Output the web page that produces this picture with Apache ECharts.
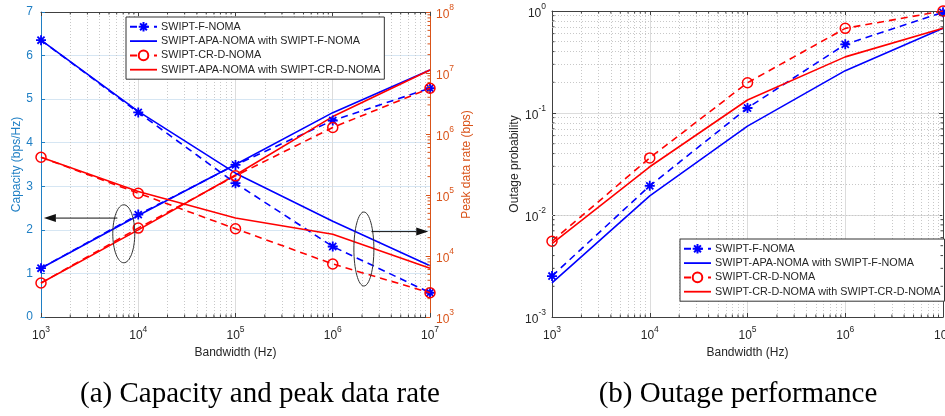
<!DOCTYPE html>
<html>
<head>
<meta charset="utf-8">
<script src="https://cdn.jsdelivr.net/npm/echarts@6/dist/echarts.min.js"></script>
<style>
  html, body { margin: 0; padding: 0; background: #fff; }
  #chart { width: 945px; height: 416px; }
</style>
</head>
<body>
<div id="chart"></div>
<script>
// Bandwidth samples (Hz)
const bandwidth = [1e3, 1e4, 1e5, 1e6, 1e7];

// (a) Capacity (bps/Hz) - left axis
const capFNoma   = [1.12, 2.35, 3.49, 4.51, 5.25];
const capApaF    = [1.12, 2.33, 3.50, 4.69, 5.67];
const capCrdNoma = [0.78, 2.04, 3.24, 4.35, 5.25];
const capApaCrd  = [0.78, 2.00, 3.26, 4.60, 5.67];

// (a) Peak data rate (bps) - right axis
const rateFNoma   = [3.45e7, 2.26e6, 1.56e5, 1.43e4, 2.5e3];
const rateApaF    = [3.45e7, 2.35e6, 2.28e5, 3.7e4, 6.9e3];
const rateCrdNoma = [4.16e5, 1.07e5, 2.8e4, 7.4e3, 2.5e3];
const rateApaCrd  = [4.16e5, 1.14e5, 4.2e4, 2.28e4, 6.3e3];

// (b) Outage probability
const outFNoma   = [2.52e-3, 0.0193, 0.112, 0.471, 0.97];
const outApaF    = [2.16e-3, 0.0154, 0.0743, 0.26, 0.676];
const outCrdNoma = [5.53e-3, 0.0363, 0.198, 0.676, 1.0];
const outCrdCrd  = [5.25e-3, 0.0297, 0.134, 0.355, 0.676];

// Legend entries
const namesA = ['SWIPT-F-NOMA', 'SWIPT-APA-NOMA with SWIPT-F-NOMA', 'SWIPT-CR-D-NOMA', 'SWIPT-APA-NOMA with SWIPT-CR-D-NOMA'];
const namesB = ['SWIPT-F-NOMA', 'SWIPT-APA-NOMA with SWIPT-F-NOMA', 'SWIPT-CR-D-NOMA', 'SWIPT-CR-D-NOMA with SWIPT-CR-D-NOMA'];

const captionA = '(a) Capacity and peak data rate';
const captionB = '(b) Outage performance';

const BLUE = '#0000ff', RED = '#ff0000';
const AX_BLUE = '#1f7fc4', AX_ORANGE = '#d95319', AX_GRAY = '#404040';
const STAR = 'path://M0,-10L0,10M-10,0L10,0M-7.1,-7.1L7.1,7.1M-7.1,7.1L7.1,-7.1';
const LINE_ICON = 'path://M0,0H30V2H0Z';

const pairs = (ys) => bandwidth.map((x, i) => [x, ys[i]]);

// minor decade positions (2..9 x 10^k)
function minorValues(kFrom, kTo) {
  const out = [];
  for (let k = kFrom; k <= kTo; k++) for (let m = 2; m <= 9; m++) out.push(m * Math.pow(10, k));
  return out;
}

const powLabel = (v) => '{b|10}{s|' + Math.round(Math.log10(v)) + '}';
const powRich = (color) => ({
  b: { fontSize: 12, color, lineHeight: 17, verticalAlign: 'bottom', fontFamily: 'Liberation Sans' },
  s: { fontSize: 8.5, color, verticalAlign: 'top', fontFamily: 'Liberation Sans' }
});

function dashedStar(name, xi, yi, data) {
  return {
    type: 'line', name, xAxisIndex: xi, yAxisIndex: yi, data,
    symbol: STAR, symbolSize: 10,
    itemStyle: { color: BLUE, borderColor: BLUE, borderWidth: 1.8 },
    lineStyle: { color: BLUE, width: 1.6, type: [7, 5] },
    z: 3, animation: false
  };
}
function dashedCircle(name, xi, yi, data) {
  return {
    type: 'line', name, xAxisIndex: xi, yAxisIndex: yi, data,
    symbol: 'circle', symbolSize: 10,
    itemStyle: { color: 'rgba(255,255,255,0)', borderColor: RED, borderWidth: 1.5 },
    lineStyle: { color: RED, width: 1.6, type: [7, 5] },
    z: 4, animation: false
  };
}
function solid(name, xi, yi, data, color) {
  return {
    type: 'line', name, xAxisIndex: xi, yAxisIndex: yi, data,
    symbol: 'none', itemStyle: { color },
    lineStyle: { color, width: 1.6 },
    z: 3, animation: false
  };
}
// dotted minor grid through the library's log scales
function minorGrid(xi, yi, xs, ys) {
  const data = xs.map(v => ({ xAxis: v })).concat(ys.map(v => ({ yAxis: v })));
  return {
    type: 'line', name: 'minor-grid', xAxisIndex: xi, yAxisIndex: yi, data: [],
    silent: true, animation: false,
    markLine: {
      silent: true, symbol: ['none', 'none'], label: { show: false }, animation: false, z: 1,
      lineStyle: { color: '#c8c8c8', width: 1, type: [1, 2] },
      emphasis: { disabled: true },
      data
    }
  };
}
// short inside tick marks at minor log positions
function minorTicks(xi, yi, values, dim, ref, sides, color) {
  return {
    type: 'custom', name: 'minor-ticks', xAxisIndex: xi, yAxisIndex: yi,
    silent: true, animation: false, z: 6, clip: false,
    data: values.map(v => dim === 'x' ? [v, ref] : [ref, v]),
    renderItem(params, api) {
      const cs = params.coordSys;
      const p = api.coord([api.value(0), api.value(1)]);
      const L = 2.5, st = { stroke: color, lineWidth: 1 };
      const kids = [];
      if (dim === 'x') {
        const yb = cs.y + cs.height, yt = cs.y;
        if (sides.includes('bottom')) kids.push({ type: 'line', shape: { x1: p[0], y1: yb, x2: p[0], y2: yb - L }, style: st });
        if (sides.includes('top')) kids.push({ type: 'line', shape: { x1: p[0], y1: yt, x2: p[0], y2: yt + L }, style: st });
      } else {
        const xl = cs.x, xr = cs.x + cs.width;
        if (sides.includes('left')) kids.push({ type: 'line', shape: { x1: xl, y1: p[1], x2: xl + L, y2: p[1] }, style: st });
        if (sides.includes('right')) kids.push({ type: 'line', shape: { x1: xr, y1: p[1], x2: xr - L, y2: p[1] }, style: st });
      }
      return { type: 'group', children: kids };
    }
  };
}

const legendItems = (names) => names.map((n, i) => {
  if (i === 1 || i === 3) return { name: n, icon: LINE_ICON };
  if (i === 2) return { name: n, itemStyle: { color: '#fff' } };
  return { name: n };
});

const legendCommon = {
  orient: 'vertical', itemWidth: 27, itemHeight: 12, itemGap: 3,
  backgroundColor: '#fff', borderColor: '#333', borderWidth: 1, borderRadius: 0,
  padding: [4, 4, 4, 3],
  textStyle: { fontFamily: 'Liberation Sans', fontSize: 10.8, color: '#262626', padding: [0, 0, 0, -1] },
  selectedMode: false
};

const xAxisBottom = (gi) => ({
  type: 'log', gridIndex: gi, min: 1e3, max: 1e7, logBase: 10,
  name: 'Bandwidth (Hz)', nameLocation: 'middle', nameGap: 27,
  nameTextStyle: { fontSize: 12, color: '#262626' },
  axisLine: { lineStyle: { color: AX_GRAY, width: 1 } },
  axisTick: { inside: true, length: 4, lineStyle: { color: AX_GRAY } },
  axisLabel: { formatter: powLabel, rich: powRich('#262626'), margin: 8 },
  splitLine: { show: true, lineStyle: { color: '#dcdcdc', width: 1 } }
});
const xAxisTop = (gi) => ({
  type: 'log', gridIndex: gi, min: 1e3, max: 1e7, position: 'top',
  axisLine: { lineStyle: { color: AX_GRAY, width: 1 } },
  axisTick: { inside: true, length: 4, lineStyle: { color: AX_GRAY } },
  axisLabel: { show: false }, splitLine: { show: false }
});

const option = {
  backgroundColor: '#fff',
  animation: false,
  textStyle: { fontFamily: 'Liberation Sans' },
  grid: [
    { left: 41, right: 515, top: 12, bottom: 99, outerBoundsMode: 'none', containLabel: false },
    { left: 552, right: 2, top: 11, bottom: 99, outerBoundsMode: 'none', containLabel: false }
  ],
  legend: [
    Object.assign({ data: legendItems(namesA), left: 126, top: 17 }, legendCommon),
    Object.assign({ data: legendItems(namesB), left: 680, top: 239 }, legendCommon)
  ],
  xAxis: [xAxisBottom(0), xAxisTop(0), xAxisBottom(1), xAxisTop(1)],
  yAxis: [
    { // capacity
      type: 'value', gridIndex: 0, min: 0, max: 7, interval: 1, position: 'left',
      name: 'Capacity (bps/Hz)', nameLocation: 'middle', nameGap: 16,
      nameTextStyle: { fontSize: 12, color: AX_BLUE },
      axisLine: { show: true, lineStyle: { color: AX_BLUE, width: 1 } },
      axisTick: { show: true, inside: true, length: 4, lineStyle: { color: AX_BLUE } },
      axisLabel: { color: AX_BLUE, fontSize: 12, margin: 8 },
      splitLine: { show: true, lineStyle: { color: '#d6e6f3', width: 1 } }
    },
    { // peak data rate
      type: 'log', gridIndex: 0, min: 1e3, max: 1e8, logBase: 10, position: 'right',
      name: 'Peak data rate (bps)', nameLocation: 'middle', nameGap: 31,
      nameTextStyle: { fontSize: 12, color: AX_ORANGE },
      axisLine: { show: true, lineStyle: { color: AX_ORANGE, width: 1 } },
      axisTick: { show: true, inside: true, length: 4, lineStyle: { color: AX_ORANGE } },
      axisLabel: { formatter: powLabel, rich: powRich(AX_ORANGE), margin: 6 },
      splitLine: { show: false }
    },
    { // outage
      type: 'log', gridIndex: 1, min: 1e-3, max: 1, logBase: 10, position: 'left',
      name: 'Outage probability', nameLocation: 'middle', nameGap: 31,
      nameTextStyle: { fontSize: 12, color: '#262626' },
      axisLine: { show: true, lineStyle: { color: AX_GRAY, width: 1 } },
      axisTick: { show: true, inside: true, length: 4, lineStyle: { color: AX_GRAY } },
      axisLabel: { formatter: powLabel, rich: powRich('#262626'), margin: 6 },
      splitLine: { show: true, lineStyle: { color: '#dcdcdc', width: 1 } }
    },
    { // (b) right border
      type: 'log', gridIndex: 1, min: 1e-3, max: 1, position: 'right',
      axisLine: { show: true, lineStyle: { color: AX_GRAY, width: 1 } },
      axisTick: { show: true, inside: true, length: 4, lineStyle: { color: AX_GRAY } },
      axisLabel: { show: false }, splitLine: { show: false }
    }
  ],
  series: [
    minorGrid(0, 0, minorValues(3, 6), []),
    minorGrid(2, 2, minorValues(3, 6), minorValues(-3, -1)),
    minorTicks(0, 0, minorValues(3, 6), 'x', 1, ['bottom', 'top'], AX_GRAY),
    minorTicks(0, 1, minorValues(3, 7), 'y', 1e4, ['right'], AX_ORANGE),
    minorTicks(2, 2, minorValues(3, 6), 'x', 0.1, ['bottom', 'top'], AX_GRAY),
    minorTicks(2, 2, minorValues(-3, -1), 'y', 1e4, ['left', 'right'], AX_GRAY),

    // (a) capacity curves
    dashedStar(namesA[0], 0, 0, pairs(capFNoma)),
    solid(namesA[1], 0, 0, pairs(capApaF), BLUE),
    dashedCircle(namesA[2], 0, 0, pairs(capCrdNoma)),
    solid(namesA[3], 0, 0, pairs(capApaCrd), RED),
    // (a) peak data rate curves
    dashedStar(namesA[0], 0, 1, pairs(rateFNoma)),
    solid(namesA[1], 0, 1, pairs(rateApaF), BLUE),
    dashedCircle(namesA[2], 0, 1, pairs(rateCrdNoma)),
    solid(namesA[3], 0, 1, pairs(rateApaCrd), RED),

    // (b) outage curves
    dashedStar(namesB[0], 2, 2, pairs(outFNoma)),
    solid(namesB[1], 2, 2, pairs(outApaF), BLUE),
    dashedCircle(namesB[2], 2, 2, pairs(outCrdNoma)),
    solid(namesB[3], 2, 2, pairs(outCrdCrd), RED)
  ]
};

const chart = echarts.init(document.getElementById('chart'), null, { renderer: 'canvas' });
chart.setOption(option);

// Annotations: ellipses grouping the curve bundles, arrows pointing to their axes
const toPx = (p) => chart.convertToPixel({ xAxisIndex: 0, yAxisIndex: 0 }, p);
function arrow(from, to) {
  const dx = to[0] - from[0], dy = to[1] - from[1];
  const len = Math.hypot(dx, dy), ux = dx / len, uy = dy / len;
  const hl = 12, hw = 4;
  const bx = to[0] - ux * hl, by = to[1] - uy * hl;
  return [
    { type: 'line', shape: { x1: from[0], y1: from[1], x2: bx, y2: by }, style: { stroke: '#111', lineWidth: 1 }, silent: true, z: 10 },
    { type: 'polygon', shape: { points: [[to[0], to[1]], [bx - uy * hw, by + ux * hw], [bx + uy * hw, by - ux * hw]] }, style: { fill: '#111' }, silent: true, z: 10 }
  ];
}
const e1 = toPx([7.1e3, 1.91]);
const e2 = toPx([2.09e6, 1.56]);
const a1 = arrow(toPx([6.1e3, 2.27]), toPx([1.07e3, 2.27]));
const a2 = arrow(toPx([2.5e6, 1.96]), toPx([9.6e6, 1.96]));

chart.setOption({
  graphic: [
    { type: 'ellipse', shape: { cx: e1[0], cy: e1[1], rx: 11, ry: 29 }, style: { fill: 'none', stroke: '#333', lineWidth: 1 }, silent: true, z: 10 },
    { type: 'ellipse', shape: { cx: e2[0], cy: e2[1], rx: 10, ry: 37 }, style: { fill: 'none', stroke: '#333', lineWidth: 1 }, silent: true, z: 10 },
    ...a1, ...a2,
    { type: 'text', x: 260, y: 394, style: { text: captionA, font: '29px "Liberation Serif"', fill: '#000', align: 'center', verticalAlign: 'middle' } },
    { type: 'text', x: 738, y: 394, style: { text: captionB, font: '29px "Liberation Serif"', fill: '#000', align: 'center', verticalAlign: 'middle' } }
  ]
});
</script>
</body>
</html>
